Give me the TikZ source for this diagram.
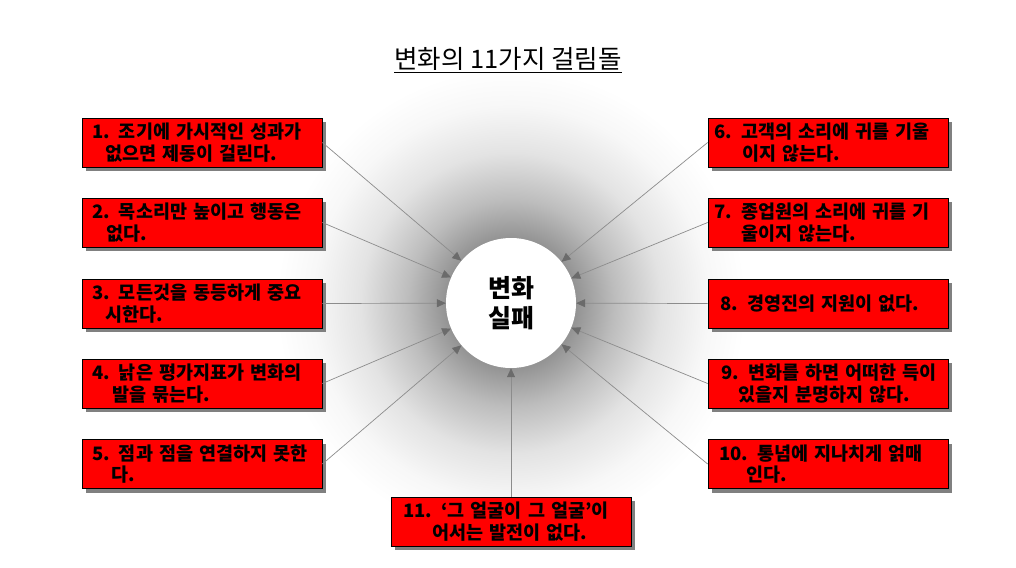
\documentclass[tikz,border=0pt]{standalone}
\usepackage{fontspec}
\newfontfamily\kr{Noto Sans CJK KR}
\usetikzlibrary{arrows.meta,shadows}
\pgfdeclareradialshading{glow}{\pgfpoint{0bp}{0bp}}{color(0bp)=(black!42);color(7bp)=(black!42);color(11bp)=(black!26);color(16bp)=(black!11);color(21bp)=(black!3);color(25bp)=(white);color(50bp)=(white)}
\newcommand{\boxline}[2]{\hspace*{#1pt}\mbox{#2}}
\begin{document}
\begin{tikzpicture}[x=1pt,y=-1pt,
  box/.style={draw=black, line width=0.7pt, fill=red, minimum width=240pt, minimum height=49pt,
    inner xsep=0pt, inner ysep=0pt, text width=240pt, align=left,
    font=\kr\bfseries\fontsize{18.5}{21.5}\selectfont,
    drop shadow={shadow xshift=4pt, shadow yshift=-4pt, fill=black!50, opacity=1}},
  conn/.style={draw=black!45, line width=0.7pt, -{Triangle[length=9pt,width=8pt,color=black!58,fill=black!58]}}
]
\useasboundingbox (0,0) rectangle (1016,567);
\fill[white] (0,0) rectangle (1016,567);
\shade[shading=glow] (511,303) circle (235);

\node[font=\kr\fontsize{25.5}{30}\selectfont, anchor=base] (title) at (508,69) {\underline{변화의 11가지 걸림돌}};

\node[circle, fill=white, minimum size=130pt, inner sep=0pt, align=center,
  font=\kr\bfseries\fontsize{25}{30}\selectfont] (c) at (511,303) {변화\\실패};

\node[box] (b1) at (202,142.5) {\boxline{10}{1. 조기에 가시적인 성과가}\\\boxline{23}{없으면 제동이 걸린다.}};
\node[box] (b2) at (202,222.5) {\boxline{10}{2. 목소리만 높이고 행동은}\\\boxline{24}{없다.}};
\node[box] (b3) at (202,303.5) {\boxline{10}{3. 모든것을 동등하게 중요}\\\boxline{23}{시한다.}};
\node[box] (b4) at (202,383.5) {\boxline{10}{4. 낡은 평가지표가 변화의}\\\boxline{30}{발을 묶는다.}};
\node[box] (b5) at (202,464) {\boxline{10}{5. 점과 점을 연결하지 못한}\\\boxline{29}{다.}};

\node[box] (b6) at (828,142.5) {\boxline{6}{6. 고객의 소리에 귀를 기울}\\\boxline{34}{이지 않는다.}};
\node[box] (b7) at (828,222.5) {\boxline{6}{7. 종업원의 소리에 귀를 기}\\\boxline{33}{울이지 않는다.}};
\node[box] (b8) at (828,303.5) {\boxline{12}{8. 경영진의 지원이 없다.}};
\node[box] (b9) at (828,383.5) {\boxline{13}{9. 변화를 하면 어떠한 득이}\\\boxline{30}{있을지 분명하지 않다.}};
\node[box] (b10) at (828,464) {\boxline{11}{10. 통념에 지나치게 얽매}\\\boxline{38}{인다.}};

\node[box] (b11) at (511,521.5) {\boxline{12}{11. ‘그 얼굴이 그 얼굴’이}\\\boxline{41}{어서는 발전이 없다.}};

\foreach \b in {b1,b2,b3,b4,b5}{\draw[conn] (\b.east) -- (c);}
\foreach \b in {b6,b7,b8,b9,b10}{\draw[conn] (\b.west) -- (c);}
\draw[conn] (b11.north) -- (c);
\end{tikzpicture}
\end{document}
